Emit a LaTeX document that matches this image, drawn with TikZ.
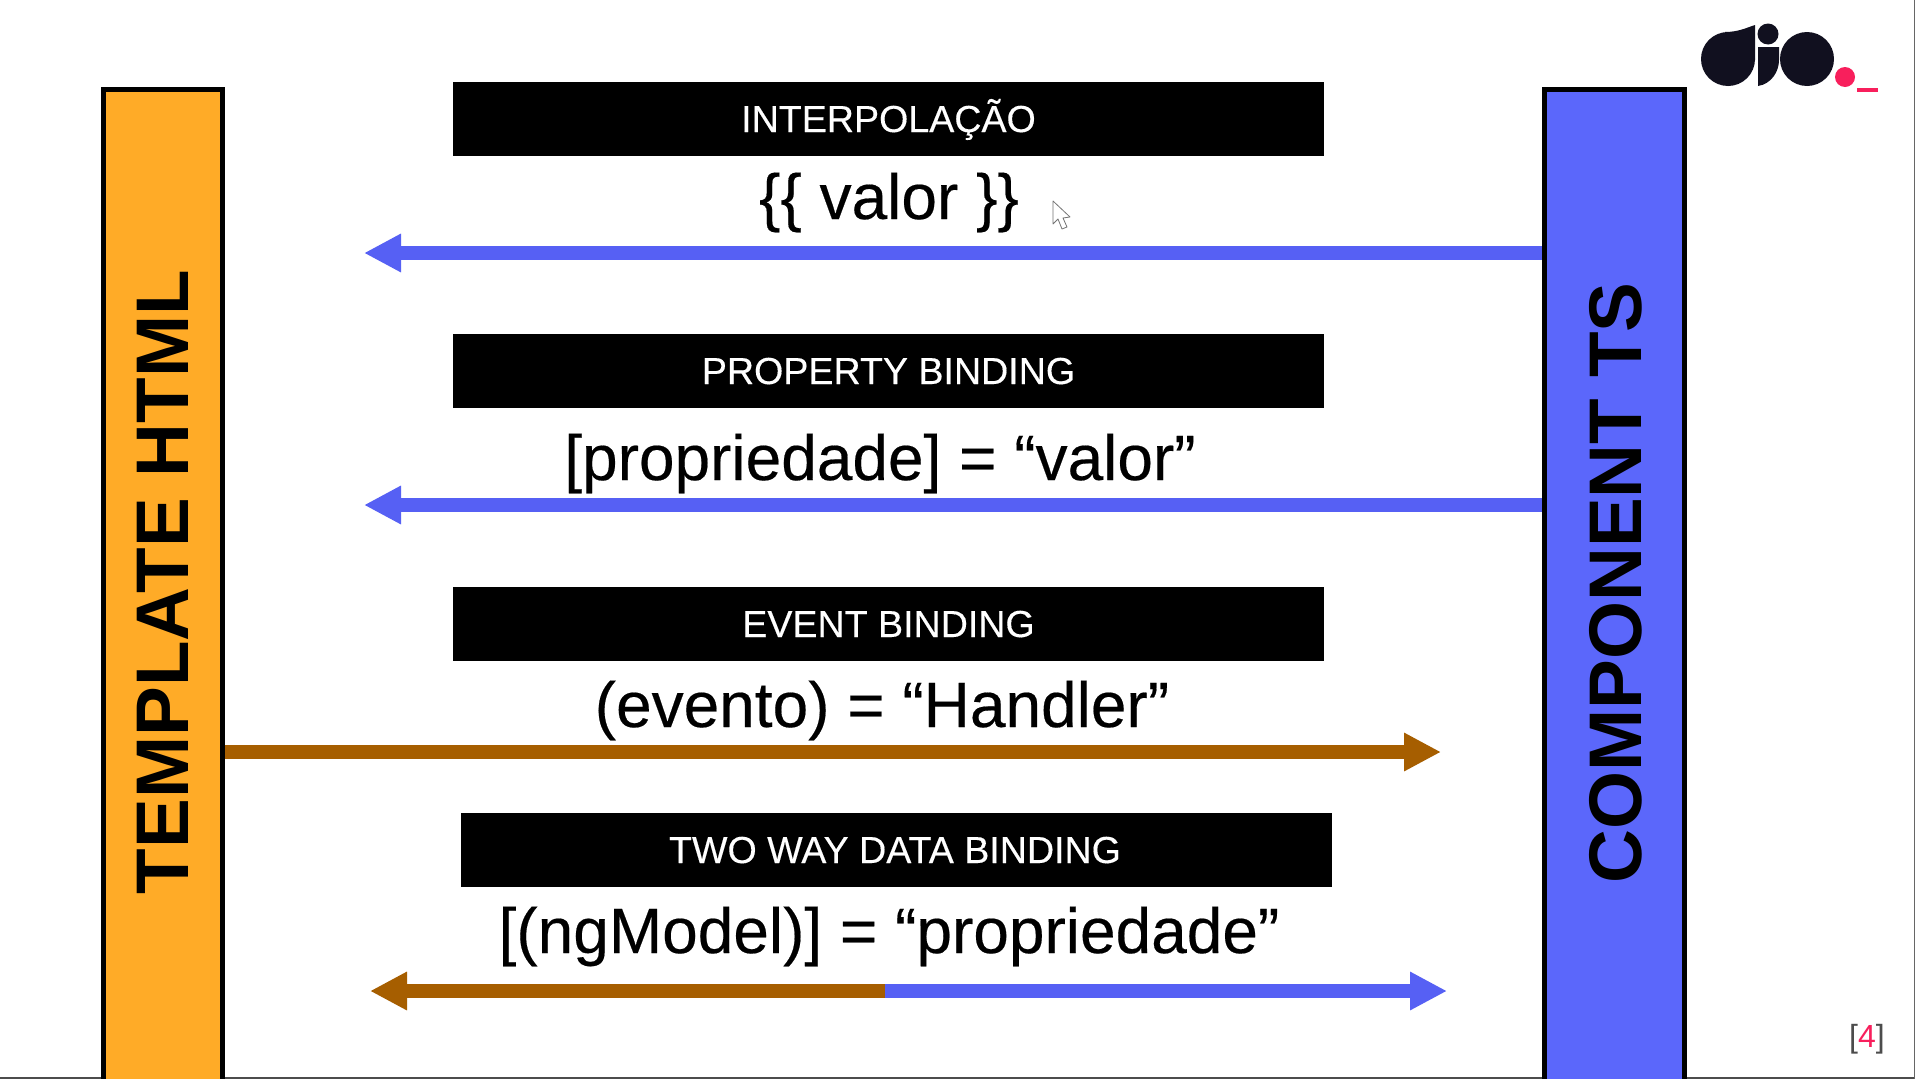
\documentclass[tikz,border=0pt]{standalone}
\usepackage{fontspec}
\setmainfont{Liberation Sans}
\newfontfamily\softbold[FakeBold=0.3]{Liberation Sans}
\usetikzlibrary{arrows.meta}
\definecolor{barorange}{HTML}{FFAB27}
\definecolor{barblue}{HTML}{5B67FB}
\definecolor{arrowblue}{HTML}{5660F4}
\definecolor{arrowbrown}{HTML}{A65E00}
\definecolor{logoink}{HTML}{11101F}
\definecolor{logored}{HTML}{F81F5C}
\tikzset{
  bar/.style={draw=black,line width=5pt,anchor=north west,inner sep=0pt},
  titlebox/.style={fill=black,anchor=north west,minimum width=871pt,minimum height=74pt,inner sep=0pt},
  boxtext/.style={text=white,anchor=base,inner sep=0pt,font=\softbold\fontsize{37.6}{37.6}\selectfont},
  codetext/.style={anchor=base,inner sep=0pt,font=\softbold\fontsize{64}{64}\selectfont},
  sidetext/.style={rotate=90,inner sep=0pt,font=\fontsize{74.6}{74.6}\selectfont\bfseries},
  flow/.style={line width=13.5pt,-{Triangle[length=37pt,width=36pt]}},
}
\begin{document}
\begin{tikzpicture}[x=1pt,y=-1pt]
\useasboundingbox (0,0) rectangle (1915,1079);
\fill[white] (0,0) rectangle (1915,1079);
\fill[black!70] (0,1077) rectangle (1915,1079);
\fill[black!60] (1913.5,0) rectangle (1915,1079);

% side bars
\node[bar,fill=barorange,minimum width=119pt,minimum height=995pt] (tmpl) at (100.5,87) {};
\node[bar,fill=barblue,minimum width=140pt,minimum height=995pt] (comp) at (1541.5,87) {};
\node[sidetext] (tmpltext) at (163,582) {TEMPLATE HTML};
\node[sidetext] (comptext) at (1616,583) {COMPONENT TS};

% title boxes
\node[titlebox] (b1) at (453,81.5) {};
\node[titlebox] (b2) at (453,333.5) {};
\node[titlebox] (b3) at (453,586.5) {};
\node[titlebox] (b4) at (460.5,812.5) {};
\node[boxtext] (t1) at (888.5,132) {INTERPOLAÇÃO};
\node[boxtext] (t2) at (888.5,384) {PROPERTY BINDING};
\node[boxtext] (t3) at (888.5,637) {EVENT BINDING};
\node[boxtext] (t4) at (895,863) {TWO WAY DATA BINDING};

% code lines
\node[codetext] (c1) at (889,219) {\{\{ valor \}\}};
\node[codetext] (c2) at (880,480) {[propriedade] = “valor”};
\node[codetext] (c3) at (882,727) {(evento) = “Handler”};
\node[codetext] (c4) at (889,953) {[(ngModel)] = “propriedade”};

% arrows
\coordinate (a1end) at (364,253);
\coordinate (a2end) at (364,505);
\coordinate (a3end) at (1441,752);
\coordinate (a4left) at (370,991);
\coordinate (a4mid) at (885,991);
\coordinate (a4right) at (1447,991);
\draw[flow,arrowblue] (comp.west |- a1end) -- (a1end);
\draw[flow,arrowblue] (comp.west |- a2end) -- (a2end);
\draw[flow,arrowbrown] (tmpl.east |- a3end) -- (a3end);
\draw[flow,arrowbrown] (a4mid) -- (a4left);
\draw[flow,arrowblue] (a4mid) -- (a4right);

% cursor
\draw[black!55,fill=white,line width=0.8pt,line join=round]
  (1053,201) -- (1053,224) -- (1058,219) -- (1062,229) -- (1067,227) -- (1063,218) -- (1070,217) -- cycle;

% logo
\fill[logoink] (1728,59) circle (27);
\fill[logoink] (1725,32) .. controls (1738,32) and (1746,28) .. (1755,25) -- (1755,60) -- (1728,86) -- cycle;
\fill[logoink] (1768,34) circle (10.5);
\fill[logoink] (1758,47) -- (1779,47) -- (1779,60) .. controls (1779,72) and (1771,84) .. (1758,86) -- cycle;
\fill[logoink] (1807,59) circle (27);
\fill[logored] (1845,77) circle (10);
\fill[logored] (1857,88) rectangle (1878,92);

% page number
\node[inner sep=0pt,anchor=base,font=\fontsize{32}{32}\selectfont,text=black!70] (pg) at (1867,1047) {[\textcolor{logored}{4}]};
\end{tikzpicture}
\end{document}
